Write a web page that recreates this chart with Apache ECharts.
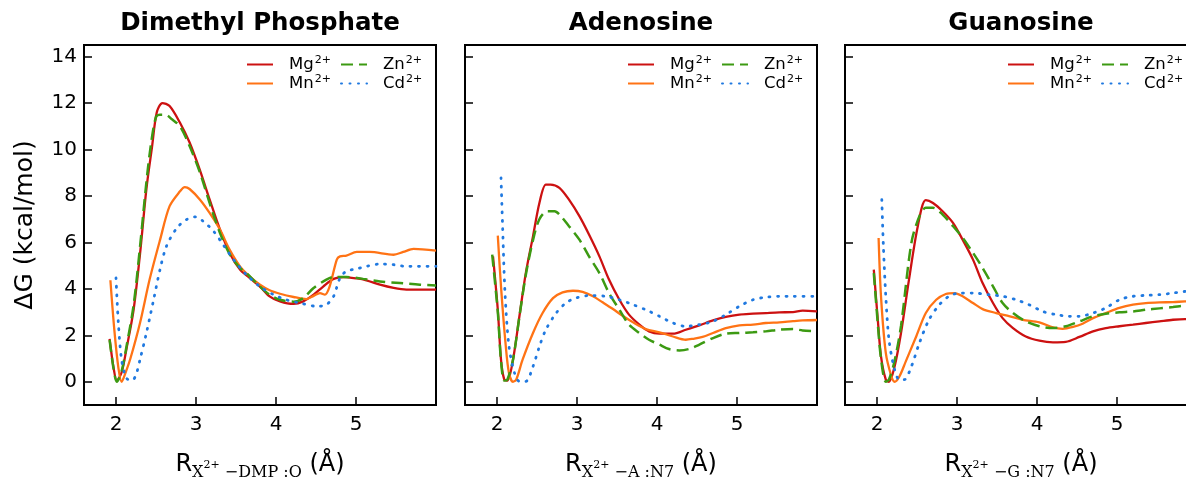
<!DOCTYPE html>
<html>
<head>
<meta charset="UTF-8">
<title>Free energy profiles</title>
<style>
  body,html{margin:0;padding:0;width:100%;height:100%;overflow:hidden;background:#fff;}
  #main{width:1186px;height:479px;}
</style>
</head>
<body>
<div id="main"></div>
<script src="https://cdn.jsdelivr.net/npm/echarts@6/dist/echarts.min.js"></script>
<script>
// panel titles, x axis subscripts, ticks
var panelTitles = ['Dimethyl Phosphate', 'Adenosine', 'Guanosine'];
var xSubs = [' \u2212DMP :O', ' \u2212A :N7', ' \u2212G :N7'];
var ionNames = ['Mg2+', 'Mn2+', 'Zn2+', 'Cd2+'];
var xTicks = [2, 3, 4, 5];
var yTicks = [0, 2, 4, 6, 8, 10, 12, 14];

// Dimethyl Phosphate  [R, dG]
var dmpMg = [[1.92,1.85],[1.97,0.6],[2.01,0.05],[2.07,0.4],[2.13,1.4],[2.22,3.1],[2.30,5.5],[2.38,8.3],[2.45,10.1],[2.51,11.6],[2.58,12.0],[2.67,11.87],[2.80,11.15],[2.92,10.3],[3.05,9.1],[3.17,7.85],[3.30,6.55],[3.42,5.55],[3.55,4.83],[3.67,4.47],[3.80,4.1],[3.92,3.68],[4.05,3.46],[4.22,3.35],[4.34,3.46],[4.47,3.75],[4.59,4.1],[4.72,4.43],[4.84,4.51],[5.01,4.45],[5.13,4.37],[5.30,4.18],[5.47,4.04],[5.63,3.97],[6.0,3.97]];
var dmpMn = [[1.93,4.37],[1.98,2.2],[2.03,0.6],[2.07,0.0],[2.12,0.4],[2.18,1.0],[2.30,2.53],[2.42,4.4],[2.55,6.1],[2.67,7.56],[2.80,8.2],[2.86,8.38],[2.92,8.3],[3.05,7.84],[3.17,7.27],[3.30,6.55],[3.42,5.69],[3.55,4.97],[3.67,4.54],[3.80,4.18],[3.92,3.94],[4.05,3.79],[4.22,3.65],[4.38,3.56],[4.47,3.7],[4.55,3.82],[4.61,3.75],[4.67,4.1],[4.76,5.26],[4.80,5.4],[4.88,5.43],[5.01,5.59],[5.17,5.59],[5.47,5.47],[5.59,5.59],[5.72,5.72],[6.0,5.65]];
var dmpZn = [[1.92,1.8],[1.97,0.55],[2.01,0.0],[2.07,0.45],[2.13,1.5],[2.22,3.3],[2.30,5.8],[2.38,8.6],[2.44,10.3],[2.50,11.4],[2.55,11.5],[2.62,11.5],[2.70,11.3],[2.80,11.0],[2.92,10.15],[3.05,9.0],[3.17,7.7],[3.30,6.4],[3.42,5.5],[3.55,4.9],[3.63,4.68],[3.80,4.1],[3.92,3.75],[4.05,3.53],[4.22,3.45],[4.34,3.6],[4.47,4.04],[4.63,4.4],[4.72,4.51],[4.88,4.51],[5.09,4.43],[5.30,4.32],[5.55,4.25],[5.80,4.18],[6.0,4.15]];
var dmpCd = [[2.0,4.47],[2.03,2.5],[2.07,0.95],[2.13,0.16],[2.20,0.05],[2.25,0.3],[2.30,0.95],[2.38,2.1],[2.47,3.53],[2.55,4.83],[2.63,5.83],[2.76,6.62],[2.88,6.98],[2.99,7.1],[3.09,6.91],[3.22,6.48],[3.34,5.9],[3.47,5.26],[3.63,4.61],[3.80,4.1],[3.97,3.75],[4.13,3.53],[4.30,3.39],[4.51,3.25],[4.63,3.32],[4.72,3.68],[4.80,4.47],[4.88,4.76],[5.01,4.86],[5.13,4.97],[5.30,5.07],[5.47,5.04],[5.63,4.97],[6.0,4.97]];

// Adenosine
var adeMg = [[1.95,5.4],[2.01,3.1],[2.05,0.95],[2.09,0.1],[2.13,0.05],[2.20,0.95],[2.28,2.82],[2.36,4.68],[2.45,6.26],[2.53,7.7],[2.61,8.49],[2.67,8.49],[2.78,8.35],[2.90,7.84],[3.03,7.13],[3.15,6.34],[3.28,5.4],[3.40,4.4],[3.53,3.53],[3.65,2.89],[3.78,2.46],[3.90,2.17],[4.03,2.07],[4.20,2.07],[4.36,2.24],[4.53,2.43],[4.70,2.64],[4.86,2.79],[5.03,2.89],[5.20,2.93],[5.36,2.96],[5.53,2.99],[5.70,3.0],[5.82,3.06],[6.0,3.03]];
var adeMn = [[2.01,6.29],[2.05,4.1],[2.11,1.52],[2.15,0.37],[2.20,0.0],[2.24,0.09],[2.32,0.95],[2.45,2.1],[2.57,2.96],[2.70,3.6],[2.82,3.85],[2.95,3.92],[3.07,3.87],[3.20,3.68],[3.32,3.42],[3.45,3.13],[3.57,2.84],[3.70,2.56],[3.86,2.27],[4.03,2.13],[4.20,1.95],[4.36,1.81],[4.45,1.85],[4.57,1.93],[4.70,2.1],[4.86,2.31],[5.03,2.43],[5.20,2.46],[5.36,2.53],[5.53,2.56],[5.70,2.61],[5.82,2.64],[6.0,2.66]];
var adeZn = [[1.94,5.47],[2.01,3.0],[2.05,0.9],[2.09,0.05],[2.13,0.1],[2.20,0.95],[2.28,2.8],[2.36,4.6],[2.45,6.1],[2.53,7.0],[2.63,7.34],[2.72,7.34],[2.78,7.2],[2.90,6.7],[3.03,6.12],[3.15,5.4],[3.28,4.68],[3.40,3.82],[3.53,3.1],[3.65,2.46],[3.78,2.1],[3.90,1.81],[4.03,1.6],[4.15,1.41],[4.28,1.35],[4.40,1.41],[4.53,1.6],[4.70,1.88],[4.86,2.07],[5.03,2.1],[5.20,2.13],[5.36,2.17],[5.53,2.24],[5.70,2.27],[5.82,2.21],[6.0,2.17]];
var adeCd = [[2.05,8.78],[2.07,6.7],[2.10,3.82],[2.15,1.52],[2.22,0.37],[2.28,0.02],[2.36,0.02],[2.45,0.66],[2.53,1.52],[2.61,2.24],[2.74,2.96],[2.86,3.39],[2.99,3.61],[3.15,3.71],[3.36,3.68],[3.53,3.53],[3.70,3.32],[3.86,3.1],[4.03,2.82],[4.20,2.53],[4.36,2.39],[4.53,2.46],[4.70,2.6],[4.86,2.89],[5.03,3.25],[5.20,3.53],[5.36,3.64],[5.53,3.68],[5.70,3.68],[6.0,3.68]];

// Guanosine
var guaMg = [[1.96,4.83],[2.01,2.67],[2.05,1.09],[2.11,0.09],[2.15,0.0],[2.22,0.66],[2.30,2.1],[2.40,4.4],[2.51,6.7],[2.61,7.82],[2.70,7.7],[2.82,7.34],[2.95,6.84],[3.07,6.12],[3.20,5.26],[3.32,4.25],[3.45,3.39],[3.57,2.74],[3.70,2.31],[3.86,1.95],[4.03,1.77],[4.20,1.7],[4.36,1.72],[4.53,1.93],[4.70,2.17],[4.86,2.31],[5.03,2.39],[5.20,2.46],[5.36,2.53],[5.53,2.6],[5.70,2.67],[5.85,2.7],[6.0,2.7]];
var guaMn = [[2.02,6.19],[2.05,3.68],[2.11,1.24],[2.18,0.23],[2.22,0.0],[2.28,0.23],[2.36,0.88],[2.49,1.95],[2.61,2.96],[2.74,3.53],[2.86,3.78],[2.97,3.82],[3.07,3.68],[3.20,3.39],[3.32,3.13],[3.49,2.96],[3.66,2.82],[3.82,2.67],[4.03,2.56],[4.20,2.34],[4.32,2.28],[4.45,2.36],[4.57,2.5],[4.70,2.74],[4.86,2.96],[5.03,3.18],[5.20,3.32],[5.36,3.39],[5.53,3.42],[5.70,3.43],[5.85,3.46],[6.0,3.47]];
var guaZn = [[1.96,4.68],[2.01,2.5],[2.05,1.0],[2.11,0.0],[2.15,0.1],[2.22,0.9],[2.30,2.4],[2.43,5.98],[2.53,7.13],[2.61,7.49],[2.70,7.49],[2.82,7.2],[2.95,6.7],[3.07,6.2],[3.20,5.55],[3.32,4.9],[3.45,4.11],[3.57,3.39],[3.70,2.96],[3.86,2.6],[4.03,2.39],[4.20,2.31],[4.36,2.39],[4.53,2.6],[4.70,2.82],[4.86,2.93],[5.03,2.99],[5.20,3.03],[5.36,3.1],[5.53,3.16],[5.70,3.22],[5.85,3.28],[6.0,3.3]];
var guaCd = [[2.06,7.84],[2.08,5.83],[2.11,3.68],[2.15,1.81],[2.22,0.52],[2.28,0.09],[2.34,0.09],[2.43,0.66],[2.53,1.67],[2.65,2.67],[2.78,3.32],[2.90,3.68],[3.03,3.82],[3.20,3.82],[3.40,3.75],[3.57,3.68],[3.74,3.53],[3.90,3.32],[4.07,3.03],[4.24,2.89],[4.40,2.82],[4.53,2.82],[4.70,2.96],[4.86,3.18],[5.03,3.53],[5.20,3.68],[5.36,3.72],[5.53,3.75],[5.70,3.82],[5.85,3.89],[6.0,3.92]];

var panelData = [
  [dmpMg, dmpMn, dmpZn, dmpCd],
  [adeMg, adeMn, adeZn, adeCd],
  [guaMg, guaMn, guaZn, guaCd]
];

var ionStyles = [
  {color: '#cc1111', width: 2.3, type: 'solid'},
  {color: '#ff7315', width: 2.3, type: 'solid'},
  {color: '#3c9a12', width: 2.5, type: [12, 6]},
  {color: '#2079e0', width: 2.8, type: [1, 7.5], cap: 'round'}
];

var gridLefts = [84, 465, 845];
var plotW = 352, plotTop = 45, plotH = 360;

var myChart = echarts.init(document.getElementById('main'));

var grids = [], xAxes = [], yAxes = [], series = [], titles = [], legends = [];
var legendRich = {
  b: {fontSize: 16.5, lineHeight: 19, fontFamily: 'DejaVu Sans', color: '#000'},
  s: {fontSize: 11, lineHeight: 12, fontFamily: 'DejaVu Sans', color: '#000', verticalAlign: 'top', padding: [0, 0, 0, 1]}
};
var xNameRich = {
  r: {fontSize: 24, lineHeight: 32, fontFamily: 'DejaVu Sans', color: '#000'},
  sub: {fontSize: 16, lineHeight: 16, fontFamily: 'DejaVu Serif', color: '#000', verticalAlign: 'bottom'},
  sup: {fontSize: 11, lineHeight: 11, fontFamily: 'DejaVu Serif', color: '#000', verticalAlign: 'bottom', padding: [0, 0, 10, 0]}
};

for (var p = 0; p < 3; p++) {
  var left = gridLefts[p];
  grids.push({left: left, top: plotTop, width: plotW, height: plotH, outerBoundsMode: 'none',
    show: true, borderColor: '#000', borderWidth: 2, backgroundColor: 'transparent'});
  titles.push({text: panelTitles[p], left: left + plotW / 2, top: 11, textAlign: 'center', padding: 0,
    textStyle: {fontSize: 24.5, fontWeight: 'bold', fontFamily: 'DejaVu Sans', color: '#000'}});
  xAxes.push({
    type: 'value', gridIndex: p, min: 1.6, max: 6.0,
    axisLine: {show: false, onZero: false}, splitLine: {show: false},
    axisTick: {inside: true, length: 8, customValues: xTicks, lineStyle: {color: '#000', width: 1.5}},
    axisLabel: {customValues: xTicks, fontSize: 20, color: '#000', margin: 10, fontFamily: 'DejaVu Sans'},
    name: '{r|R}{sub|X}{sup|2+}{sub|' + xSubs[p] + '}{r| (\u00c5)}',
    nameLocation: 'middle', nameGap: 44,
    nameTextStyle: {rich: xNameRich}
  });
  yAxes.push({
    type: 'value', gridIndex: p, min: -1, max: 14.5,
    axisLine: {show: false, onZero: false}, splitLine: {show: false},
    axisTick: {inside: true, length: 8, customValues: yTicks, lineStyle: {color: '#000', width: 1.5}},
    axisLabel: {show: p === 0, customValues: yTicks, fontSize: 20, color: '#000', margin: 7, fontFamily: 'DejaVu Sans'},
    name: p === 0 ? '\u0394G (kcal/mol)' : '',
    nameLocation: 'middle', nameGap: 46,
    nameTextStyle: {fontSize: 25, color: '#000', fontFamily: 'DejaVu Sans'}
  });
  for (var k = 0; k < 4; k++) {
    series.push({
      name: ionNames[k], type: 'line', xAxisIndex: p, yAxisIndex: p,
      data: panelData[p][k], smooth: 0.3, symbol: 'none',
      lineStyle: ionStyles[k], itemStyle: {color: ionStyles[k].color}
    });
  }
  var cols = [[ionNames[0], ionNames[1]], [ionNames[2], ionNames[3]]];
  for (var c = 0; c < 2; c++) {
    legends.push({
      left: left + 162 + c * 94, top: 55, orient: 'vertical', padding: 0,
      itemGap: 1, itemWidth: 26, itemHeight: 14, selectedMode: false,
      itemStyle: {color: 'rgba(0,0,0,0)', borderWidth: 0},
      data: cols[c],
      formatter: function (name) { return '{b|' + name.replace('2+', '') + '}{s|2+}'; },
      textStyle: {padding: [0, 0, 0, 11], rich: legendRich}
    });
  }
}

var option = {
  animation: false,
  backgroundColor: '#fff',
  title: titles,
  legend: legends,
  grid: grids,
  xAxis: xAxes,
  yAxis: yAxes,
  series: series
};
myChart.setOption(option);
</script>
</body>
</html>
